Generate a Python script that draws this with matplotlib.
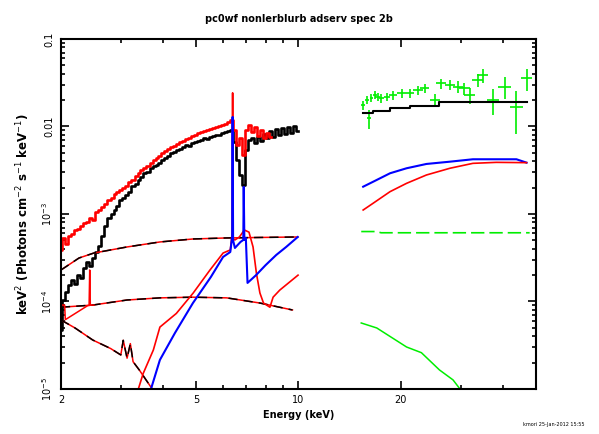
import matplotlib
matplotlib.use('Agg')
import matplotlib.pyplot as plt
from matplotlib.ticker import FixedLocator, FixedFormatter, NullFormatter

# ---- data (keV, keV^2 Photons cm^-2 s^-1 keV^-1) ----
e_lo = [2.00, 2.04, 2.08, 2.12, 2.17, 2.21, 2.26, 2.30, 2.35, 2.40, 2.45, 2.50,
        2.55, 2.60, 2.66, 2.71, 2.77, 2.83, 2.88, 2.94, 3.00, 3.06, 3.13, 3.19,
        3.26, 3.33, 3.39, 3.46, 3.53, 3.61, 3.68, 3.76, 3.83, 3.91, 3.99, 4.07,
        4.16, 4.24, 4.33, 4.42, 4.51, 4.60, 4.70, 4.79, 4.89, 4.99, 5.09, 5.20,
        5.30, 5.41, 5.52, 5.64, 5.75, 5.87, 5.99, 6.11, 6.24, 6.36, 6.49, 6.63,
        6.76, 6.90, 7.04, 7.19, 7.33, 7.48, 7.64, 7.80, 7.96, 8.12, 8.29, 8.46,
        8.63, 8.81, 8.99, 9.17, 9.36, 9.56, 9.75, 9.95]

black_data = [4.72e-5, 1.04e-4, 1.29e-4, 1.55e-4, 1.76e-4, 1.59e-4, 2.01e-4, 1.86e-4,
              2.41e-4, 2.83e-4, 2.55e-4, 3.14e-4, 3.68e-4, 4.31e-4, 5.60e-4, 7.29e-4,
              9.00e-4, 1.00e-3, 1.11e-3, 1.23e-3, 1.45e-3, 1.52e-3, 1.65e-3, 1.79e-3,
              2.09e-3, 2.20e-3, 2.45e-3, 2.65e-3, 2.94e-3, 3.02e-3, 3.36e-3, 3.54e-3,
              3.63e-3, 3.83e-3, 4.14e-3, 4.36e-3, 4.60e-3, 4.98e-3, 5.11e-3, 5.39e-3,
              5.53e-3, 5.83e-3, 6.15e-3, 5.99e-3, 6.48e-3, 6.66e-3, 6.83e-3, 7.01e-3,
              7.39e-3, 7.20e-3, 7.59e-3, 7.79e-3, 8.00e-3, 8.00e-3, 8.43e-3, 8.66e-3,
              8.88e-3, 9.12e-3, 6.66e-3, 4.14e-3, 2.79e-3, 2.15e-3, 5.39e-3, 7.01e-3,
              7.39e-3, 6.48e-3, 7.59e-3, 6.83e-3, 8.21e-3, 7.39e-3, 8.88e-3, 7.59e-3,
              9.37e-3, 8.00e-3, 9.62e-3, 8.21e-3, 9.87e-3, 8.43e-3, 1.01e-2, 8.88e-3]

red_data = [3.88e-4, 5.32e-4, 4.54e-4, 5.61e-4, 5.91e-4, 6.56e-4, 6.74e-4, 7.29e-4,
            7.89e-4, 8.11e-4, 9.00e-4, 8.53e-4, 1.05e-3, 1.11e-3, 1.20e-3, 1.30e-3,
            1.45e-3, 1.52e-3, 1.69e-3, 1.79e-3, 1.88e-3, 1.98e-3, 2.09e-3, 2.32e-3,
            2.45e-3, 2.72e-3, 2.94e-3, 3.18e-3, 3.36e-3, 3.54e-3, 3.83e-3, 4.14e-3,
            4.36e-3, 4.60e-3, 4.98e-3, 5.25e-3, 5.53e-3, 5.83e-3, 5.99e-3, 6.31e-3,
            6.66e-3, 6.83e-3, 7.20e-3, 7.39e-3, 7.79e-3, 8.00e-3, 8.43e-3, 8.66e-3,
            8.88e-3, 9.12e-3, 9.37e-3, 9.62e-3, 9.87e-3, 1.01e-2, 1.04e-2, 1.07e-2,
            1.13e-2, 1.19e-2, 9.12e-3, 6.15e-3, 7.39e-3, 4.72e-3, 9.12e-3, 1.04e-2,
            8.66e-3, 9.87e-3, 7.79e-3, 9.12e-3, 7.39e-3, 8.43e-3, 7.59e-3]

# model components, left band
comp1_e = [2.00, 2.26, 2.50, 3.13, 3.91, 4.89, 6.11, 7.64, 9.95]
comp1_y = [2.29e-4, 3.14e-4, 3.58e-4, 4.20e-4, 4.79e-4, 5.18e-4, 5.32e-4, 5.39e-4, 5.46e-4]

comp2_e = [2.00, 2.48, 3.13, 3.91, 4.89, 6.15, 7.70, 9.60]
comp2_y = [8.6e-5, 9.1e-5, 1.04e-4, 1.10e-4, 1.12e-4, 1.10e-4, 9.6e-5, 8.0e-5]

soft_e = [2.00, 2.20, 2.48, 2.80, 3.00, 3.05, 3.13, 3.20, 3.26, 3.40, 3.65, 3.78]
soft_y = [6.15e-5, 4.98e-5, 3.63e-5, 2.90e-5, 2.45e-5, 3.60e-5, 2.25e-5, 3.30e-5,
          2.05e-5, 1.65e-5, 1.10e-5, 9.0e-6]

red_line_e = [2.00, 2.05, 2.06, 2.40, 2.42, 2.43, 2.44, 2.50]
red_line_y = [9.1e-5, 9.1e-5, 6.2e-5, 9.0e-5, 9.0e-5, 2.29e-4, 9.1e-5, 9.1e-5]

blue_lo_e = [3.65, 3.91, 4.33, 4.89, 5.52, 6.00, 6.30, 6.38, 6.40, 6.42, 6.50, 6.75,
             6.88, 6.90, 6.93, 7.00, 7.08, 7.50, 8.00, 8.60, 9.20, 9.95]
blue_lo_y = [9.0e-6, 2.15e-5, 4.37e-5, 9.6e-5, 1.9e-4, 3.23e-4, 3.68e-4, 5.5e-4,
             1.285e-2, 5.0e-4, 4.09e-4, 4.79e-4, 5.05e-4, 2.04e-3, 5.05e-4, 5.32e-4,
             1.63e-4, 2.0e-4, 2.6e-4, 3.4e-4, 4.2e-4, 5.46e-4]

red_mod_e = [3.35, 3.49, 3.74, 3.91, 4.37, 4.90, 5.49, 6.00, 6.30, 6.38, 6.40, 6.42,
             6.50, 6.70, 6.93, 7.15, 7.35, 7.52, 7.70, 7.89, 8.24, 8.42, 8.81, 9.97]
red_mod_y = [9.0e-6, 1.5e-5, 2.79e-5, 5.1e-5, 7.3e-5, 1.25e-4, 2.29e-4, 3.58e-4,
             3.88e-4, 6.0e-4, 2.42e-2, 5.2e-4, 5.05e-4, 5.46e-4, 6.56e-4, 6.20e-4,
             4.20e-4, 2.10e-4, 1.25e-4, 9.6e-5, 8.6e-5, 1.12e-4, 1.35e-4, 2.0e-4]

# right band (hard X-ray)
green_e = [15.5, 15.9, 16.1, 16.4, 16.8, 17.1, 17.5, 18.2, 19.0, 20.1, 21.3, 22.5,
           23.5, 25.2, 26.3, 27.9, 29.5, 30.8, 31.9, 33.7, 34.9, 37.4, 40.4, 43.8, 46.9]
green_y = [0.0176, 0.0201, 0.0124, 0.0210, 0.0229, 0.0219, 0.0210, 0.0219, 0.0229,
           0.0239, 0.0239, 0.0261, 0.0273, 0.0201, 0.0311, 0.0298, 0.0285, 0.0273,
           0.0229, 0.0340, 0.0388, 0.0201, 0.0285, 0.0168, 0.0356]
green_xerr = [0.2, 0.2, 0.2, 0.2, 0.2, 0.3, 0.3, 0.4, 0.5, 0.6, 0.6, 0.7,
              0.7, 0.9, 0.9, 1.0, 1.0, 1.1, 1.1, 1.3, 1.3, 1.6, 1.8, 2.0, 1.8]
green_yerr = [0.0022, 0.0022, 0.0030, 0.0022, 0.0024, 0.0024, 0.0025, 0.0025, 0.0026,
              0.0027, 0.0028, 0.0030, 0.0032, 0.0034, 0.0040, 0.0040, 0.0042, 0.0045,
              0.0048, 0.0060, 0.0070, 0.0065, 0.0080, 0.0085, 0.0100]

black_hi_e = [15.5, 16.6, 18.6, 21.3, 26.0, 46.9]
black_hi_y = [0.01416, 0.01517, 0.01614, 0.0173, 0.0189, 0.0192]

blue_hi_e = [15.5, 16.6, 18.6, 20.8, 23.8, 27.9, 32.6, 43.8, 46.9]
blue_hi_y = [0.00205, 0.00234, 0.00292, 0.00333, 0.00373, 0.00396, 0.00422, 0.00422, 0.00386]

red_hi_e = [15.5, 16.6, 18.6, 20.8, 23.8, 27.9, 32.6, 38.2, 46.9]
red_hi_y = [0.00111, 0.00133, 0.00180, 0.00224, 0.00279, 0.00333, 0.00379, 0.00389, 0.00386]

gdash_e = [15.3, 17.0, 17.5, 47.9]
gdash_y = [6.3e-4, 6.3e-4, 6.1e-4, 6.1e-4]

glow_e = [15.3, 17.0, 20.8, 23.0, 26.0, 28.5, 30.5]
glow_y = [5.68e-5, 4.98e-5, 3.02e-5, 2.6e-5, 1.65e-5, 1.27e-5, 9.0e-6]

ytick_vals = [1e-5, 1e-4, 1e-3, 1e-2, 1e-1]
ytick_labels = [r'$10^{-5}$', r'$10^{-4}$', r'$10^{-3}$', '0.01', '0.1']
xtick_vals = [2, 5, 10, 20]
xtick_labels = ['2', '5', '10', '20']

fig = plt.figure(figsize=(5.99, 4.34), dpi=100)
ax = fig.add_axes([0.1018, 0.1037, 0.793, 0.8065])

lw = 1.9
ax.plot(e_lo, black_data, color='black', lw=lw, drawstyle='steps-mid')
ax.plot(e_lo[:len(red_data)], red_data, color='red', lw=lw, drawstyle='steps-mid')

# two-colour dashed components (red underneath, black dashes on top)
for ce, cy in [(comp1_e, comp1_y), (comp2_e, comp2_y), (soft_e, soft_y)]:
    ax.plot(ce, cy, color='red', lw=1.1)
    ax.plot(ce, cy, color='black', lw=1.1, ls=(0, (6, 4)))
ax.plot(red_line_e, red_line_y, color='red', lw=1.1)

ax.plot(red_mod_e, red_mod_y, color='red', lw=1.2)
ax.plot(blue_lo_e, blue_lo_y, color='blue', lw=1.5)

ax.errorbar(green_e, green_y, xerr=green_xerr, yerr=green_yerr, fmt='none',
            ecolor='#00ee00', elinewidth=1.2, capsize=0)
ax.plot(black_hi_e, black_hi_y, color='black', lw=1.5, drawstyle='steps-post')
ax.plot(blue_hi_e, blue_hi_y, color='blue', lw=1.5)
ax.plot(red_hi_e, red_hi_y, color='red', lw=1.2)
ax.plot(gdash_e, gdash_y, color='#00ee00', lw=1.2, ls=(0, (8, 3)))
ax.plot(glow_e, glow_y, color='#00ee00', lw=1.1)

ax.set_xscale('log')
ax.set_yscale('log')
ax.set_xlim(2, 50)
ax.set_ylim(1e-5, 0.1)

ax.xaxis.set_major_locator(FixedLocator(xtick_vals))
ax.xaxis.set_major_formatter(FixedFormatter(xtick_labels))
ax.xaxis.set_minor_formatter(NullFormatter())
ax.yaxis.set_major_locator(FixedLocator(ytick_vals))
ax.yaxis.set_major_formatter(FixedFormatter(ytick_labels))
ax.yaxis.set_minor_formatter(NullFormatter())
for lab in ax.get_yticklabels():
    lab.set_rotation(90)
    lab.set_va('center')

ax.tick_params(which='both', direction='in', top=True, right=True, labelsize=7, width=1.2)
ax.tick_params(which='major', length=6)
ax.tick_params(which='minor', length=3)
ax.tick_params(axis='x', pad=4)
ax.tick_params(axis='y', pad=5)
for s in ax.spines.values():
    s.set_linewidth(1.5)

ax.set_xlabel('Energy (keV)', fontsize=7, fontweight='bold')
ax.set_ylabel(r'keV$^2$ (Photons cm$^{-2}$ s$^{-1}$ keV$^{-1}$)', fontsize=8.5,
              fontweight='bold', labelpad=6)
ax.set_title('pc0wf nonlerblurb adserv spec 2b', fontsize=7, fontweight='bold', pad=12)
fig.text(0.975, 0.015, 'kmori 25-Jan-2012 15:55', fontsize=3.5, ha='right', va='bottom')

fig.savefig('out.png', dpi=100)
